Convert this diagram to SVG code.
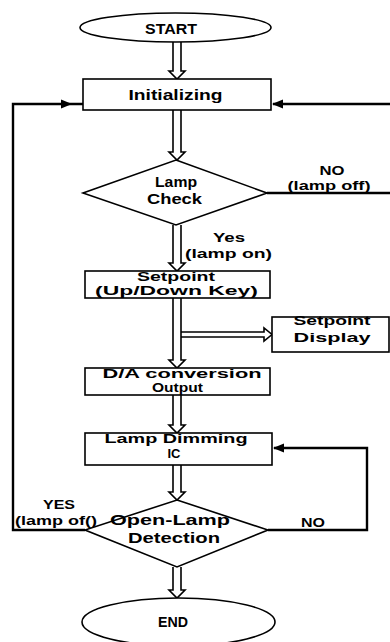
<svg xmlns="http://www.w3.org/2000/svg" xmlns:xlink="http://www.w3.org/1999/xlink" width="390" height="642" viewBox="0 0 390 642">
<style>
.n{fill:#fff;stroke:#000;stroke-width:1.6}
.t{font-family:"Liberation Sans",Arial,sans-serif;font-weight:bold;font-size:14px;text-anchor:middle;fill:#000}
.s{font-size:12px}
.g{font-size:15px}
.d{fill:none;stroke:#000;stroke-width:1.6;stroke-linejoin:miter}
.l{fill:none;stroke:#000;stroke-width:2.4}
</style>
<defs>
<path id="ah" d="M0,0 L-11,-4.5 L-11,4.5 Z" fill="#000"/>
</defs>
<rect width="390" height="642" fill="#fff"/>
<g id="connectors">
<path class="d" d="M173,42 V71 H169 L177,79 L185,71 H181 V42"/>
<path class="d" d="M173,110 V152 H169 L177,160 L185,152 H181 V110"/>
<path class="d" d="M173,225 V263 H169 L177,271 L185,263 H181 V225"/>
<path class="d" d="M173,298 V360 H169 L177,368 L185,360 H181 V298"/>
<path class="d" d="M181,332 H264 V328 L272,334.5 L264,341 V337 H181"/>
<path class="d" d="M173,395 V425 H169 L177,433 L185,425 H181 V395"/>
<path class="d" d="M173,465 V492 H169 L177,500 L185,492 H181 V465"/>
<path class="d" d="M173,567 V590 H169 L177,598 L185,590 H181 V567"/>
<path class="l" d="M85,530 H13 V104 H83"/>
<use xlink:href="#ah" transform="translate(72,104)"/>
<path class="l" d="M267,193 H392 V104 H273"/>
<use xlink:href="#ah" transform="translate(272,104) rotate(180)"/>
<path class="l" d="M268,530 H367 V448 H274"/>
<use xlink:href="#ah" transform="translate(273,448) rotate(180)"/>
<text class="t s" x="332" y="175" textLength="25" lengthAdjust="spacingAndGlyphs">NO</text>
<text class="t s" x="329" y="190" textLength="83" lengthAdjust="spacingAndGlyphs">(lamp off)</text>
<text class="t s" x="229" y="242" textLength="32" lengthAdjust="spacingAndGlyphs">Yes</text>
<text class="t s" x="228.5" y="258" textLength="87" lengthAdjust="spacingAndGlyphs">(lamp on)</text>
<text class="t s" x="59" y="509" textLength="32" lengthAdjust="spacingAndGlyphs">YES</text>
<text class="t s" x="56" y="525" textLength="82" lengthAdjust="spacingAndGlyphs">(lamp of()</text>
<text class="t s" x="313" y="527" textLength="24" lengthAdjust="spacingAndGlyphs">NO</text>
</g>
<g id="start">
<ellipse class="n" cx="175.5" cy="27.5" rx="95.5" ry="14.5"/>
<text class="t g" x="171" y="34" textLength="52" lengthAdjust="spacingAndGlyphs">START</text>
</g>
<g id="initializing">
<rect class="n" x="83" y="79" width="188" height="31"/>
<text class="t g" x="175.5" y="100" textLength="94" lengthAdjust="spacingAndGlyphs">Initializing</text>
</g>
<g id="lamp-check">
<polygon class="n" points="176,160 267,193 176,225 83,193"/>
<text class="t" x="176" y="187" textLength="42" lengthAdjust="spacingAndGlyphs">Lamp</text>
<text class="t" x="174.5" y="204" textLength="55" lengthAdjust="spacingAndGlyphs">Check</text>
</g>
<g id="setpoint">
<rect class="n" x="85" y="271" width="185" height="27"/>
<text class="t s" x="176" y="281" textLength="78" lengthAdjust="spacingAndGlyphs">Setpoint</text>
<text class="t s" x="176.5" y="295" textLength="163" lengthAdjust="spacingAndGlyphs">(Up/Down Key)</text>
</g>
<g id="setpoint-display">
<rect class="n" x="272" y="317" width="117" height="35"/>
<text class="t s" x="332" y="325" textLength="77" lengthAdjust="spacingAndGlyphs">Setpoint</text>
<text class="t s" x="332" y="342" textLength="77" lengthAdjust="spacingAndGlyphs">Display</text>
</g>
<g id="da-output">
<rect class="n" x="85" y="368" width="185" height="27"/>
<text class="t s" x="182" y="378" textLength="159" lengthAdjust="spacingAndGlyphs">D/A conversion</text>
<text class="t s" x="177.5" y="392" textLength="51" lengthAdjust="spacingAndGlyphs">Output</text>
</g>
<g id="lamp-dimming">
<rect class="n" x="85" y="433" width="187" height="32"/>
<text class="t s" x="176" y="443" textLength="143" lengthAdjust="spacingAndGlyphs">Lamp Dimming</text>
<text class="t s" x="174" y="458" textLength="13" lengthAdjust="spacingAndGlyphs">IC</text>
</g>
<g id="open-lamp">
<polygon class="n" points="177,500 268,530 177,567 85,530"/>
<text class="t" x="170" y="525" textLength="120" lengthAdjust="spacingAndGlyphs">Open-Lamp</text>
<text class="t" x="174" y="543" textLength="92" lengthAdjust="spacingAndGlyphs">Detection</text>
</g>
<g id="end">
<ellipse class="n" cx="178.5" cy="622" rx="96.5" ry="24"/>
<text class="t g" x="173" y="627" textLength="30" lengthAdjust="spacingAndGlyphs">END</text>
</g>
</svg>
